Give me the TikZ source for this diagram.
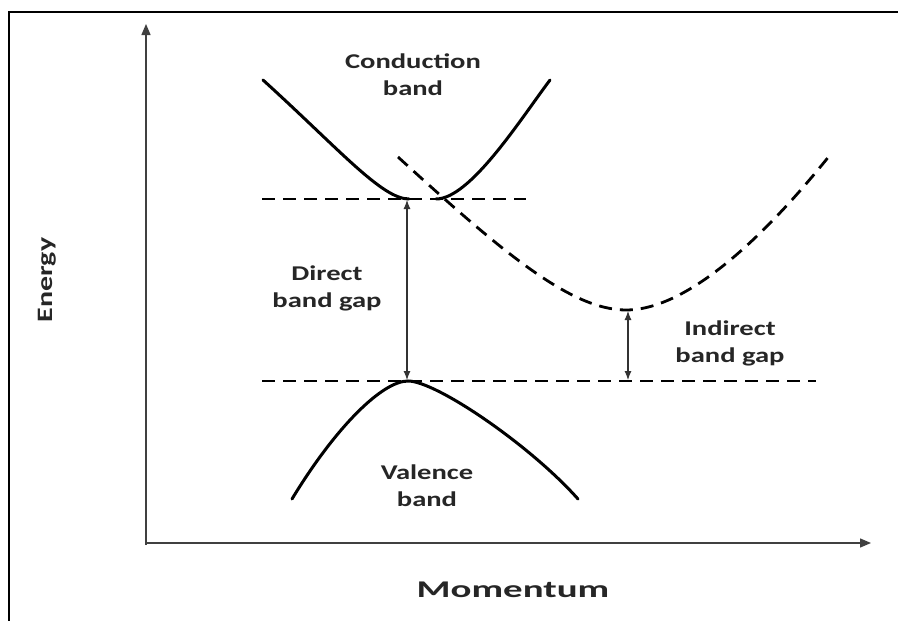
\documentclass[tikz,border=0pt]{standalone}
\usepackage{fontspec}
\setmainfont{Carlito}
\newfontfamily\lblfont[FakeStretch=1.36]{Carlito}
\newfontfamily\momfont[FakeStretch=1.62]{Carlito}
\usetikzlibrary{arrows.meta}
\tikzset{
  bandline/.style={line width=3pt, line cap=round},
  dashline/.style={line width=2.8pt, dash pattern=on 13pt off 8pt},
  axisline/.style={line width=1.4pt, draw=black!75, -{Triangle[length=11pt,width=9pt]}},
  gaparrow/.style={line width=1.1pt, draw=black!80, {Latex[length=9pt,width=7pt]}-{Latex[length=9pt,width=7pt]}},
  lbl/.style={font=\lblfont\bfseries\fontsize{21}{27}\selectfont, align=center, text=black!85},
  enlbl/.style={font=\lblfont\bfseries\fontsize{22}{27}\selectfont, text=black!85},
  momlbl/.style={font=\momfont\bfseries\fontsize{24}{28}\selectfont, text=black!85},
  frameline/.style={line width=2pt}
}
\begin{document}
\begin{tikzpicture}[x=1pt,y=-1pt]
\useasboundingbox[fill=white] (0,0) rectangle (898,621);
% frame
\coordinate (fbl) at (9,621);
\coordinate (ftl) at (9,12);
\coordinate (ftr) at (898,12);
\draw[frameline] (fbl) -- (ftl) -- (ftr);
% axes
\coordinate (ybot) at (146,545);
\coordinate (ytop) at (146,24);
\coordinate (xbeg) at (145,543);
\coordinate (xend) at (871,543);
\draw[axisline] (ybot) -- (ytop);
\draw[axisline] (xbeg) -- (xend);
% key points
\coordinate (cbL) at (263,80);
\coordinate (cbminL) at (409,199);
\coordinate (cbminR) at (436,199);
\coordinate (cbR) at (550,80);
\coordinate (icbL) at (398,157);
\coordinate (icbmin) at (626,310);
\coordinate (icbR) at (830,155);
\coordinate (vbL) at (292,499);
\coordinate (vbmax) at (408,381);
\coordinate (vbR) at (578,499);
% conduction band (direct)
\draw[bandline] (cbL) .. controls (340,150) and (382,199) .. (cbminL);
\draw[bandline] (cbminR) .. controls (470,199) and (520,120) .. (cbR);
% indirect conduction band
\draw[dashline] (icbL) .. controls (500,250) and (570,310) .. (icbmin)
   .. controls (690,310) and (770,230) .. (icbR);
% valence band
\draw[bandline] (vbL) .. controls (335,428) and (382,381) .. (vbmax)
   .. controls (436,381) and (530,445) .. (vbR);
% horizontal dashed levels
\coordinate (topdL) at (262,199);
\coordinate (topdR) at (526,199);
\coordinate (botdL) at (262,381);
\coordinate (botdR) at (816,381);
\draw[dashline] (topdL) -- (topdR);
\draw[dashline] (botdL) -- (botdR);
% gap arrows
\coordinate (dgT) at (407,200);
\coordinate (dgB) at (407,380);
\coordinate (igT) at (628,311);
\coordinate (igB) at (628,380);
\draw[gaparrow] (dgT) -- (dgB);
\draw[gaparrow] (igT) -- (igB);
% labels
\node[lbl] (cond) at (413,75) {Conduction\\band};
\node[lbl] (dir) at (327,288) {Direct\\band gap};
\node[lbl] (ind) at (730,343) {Indirect\\band gap};
\node[lbl] (val) at (427,486) {Valence\\band};
\node[enlbl, rotate=90] (en) at (47,280) {Energy};
\node[momlbl] (mom) at (513,590) {Momentum};
\end{tikzpicture}
\end{document}
